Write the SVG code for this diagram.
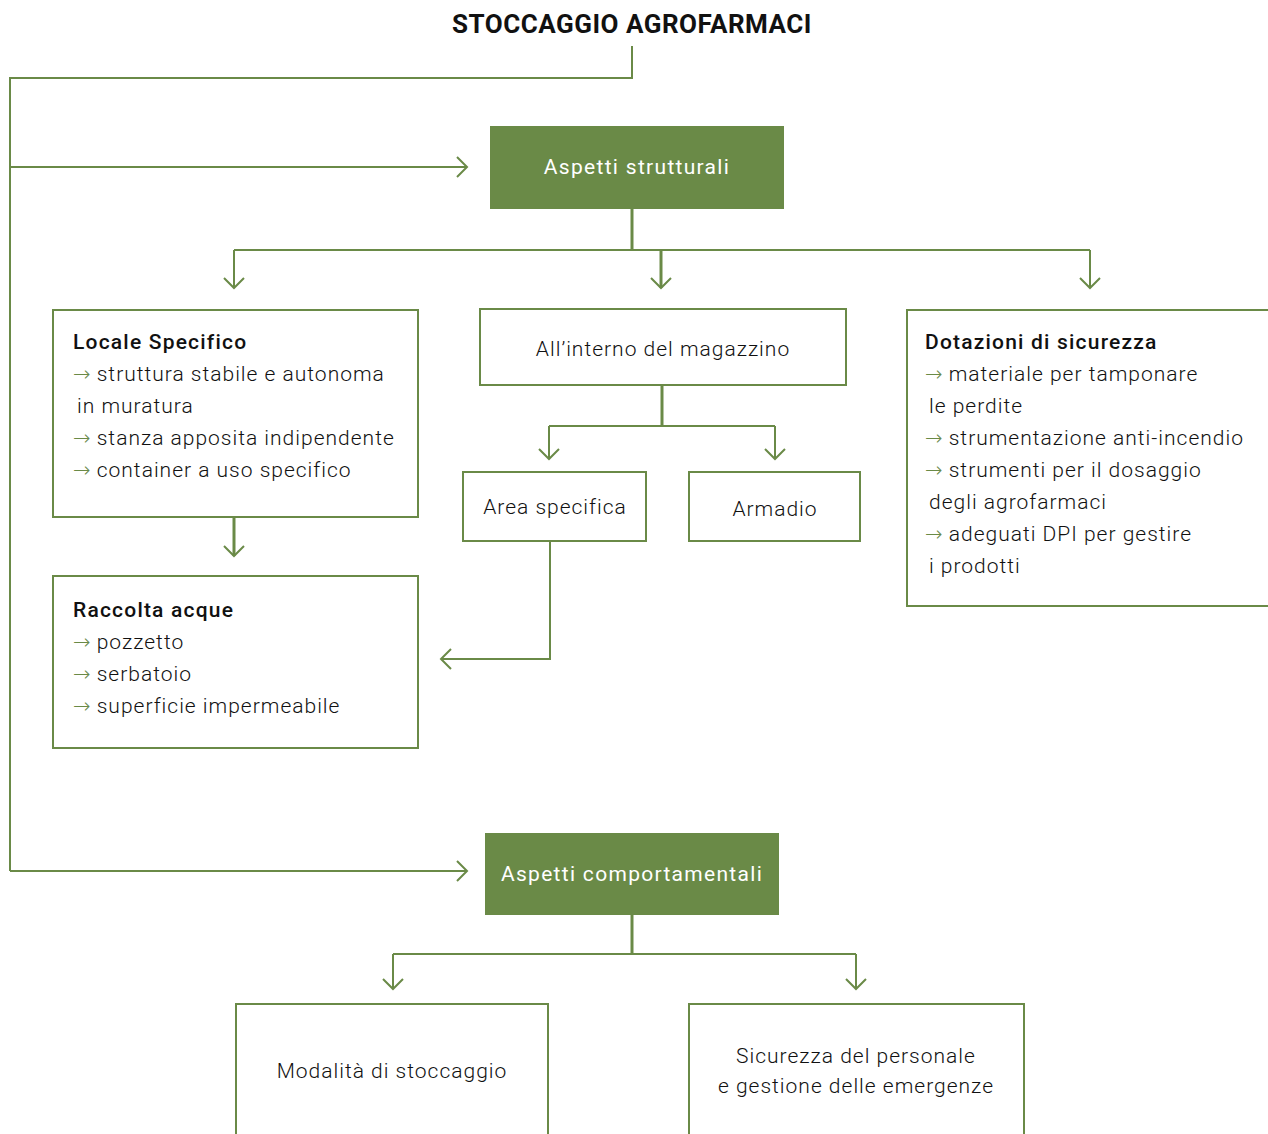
<svg xmlns="http://www.w3.org/2000/svg" width="1268" height="1134" viewBox="0 0 1268 1134">
<style>
.ln{fill:none;stroke:#6a8a47;stroke-width:2}
.tk{fill:none;stroke:#6a8a47;stroke-width:3}
.bx{fill:#fff;stroke:#6a8a47;stroke-width:2}
.gb{fill:#6a8a47}
.t{font-family:Roboto,"Liberation Sans",sans-serif;font-size:21px;font-weight:300;fill:#111;letter-spacing:1px}
.h{font-family:Roboto,"Liberation Sans",sans-serif;font-size:21px;font-weight:500;fill:#111;letter-spacing:1.2px}
.w{font-family:Roboto,"Liberation Sans",sans-serif;font-size:21px;font-weight:400;fill:#fff;letter-spacing:1.3px}
.a{fill:#6a8a47;font-family:"DejaVu Sans",sans-serif;font-weight:200;letter-spacing:0}
.ttl{font-family:Roboto,"Liberation Sans",sans-serif;font-size:26px;font-weight:700;fill:#111;letter-spacing:0.5px}
</style>
<defs>
<marker id="ar" markerUnits="userSpaceOnUse" markerWidth="24" markerHeight="24" viewBox="-12 -12 24 24" refX="0" refY="0" orient="auto">
<path d="M-10,-10 L0,0 L-10,10" fill="none" stroke="#6a8a47" stroke-width="2"/>
</marker>
</defs>
<text class="ttl" x="632" y="33" text-anchor="middle">STOCCAGGIO AGROFARMACI</text>
<g id="connectors">
<path class="ln" d="M632,46 V78 H10 V871"/>
<path class="ln" d="M10,167 H467" marker-end="url(#ar)"/>
<path class="ln" d="M10,871 H467" marker-end="url(#ar)"/>
<path class="tk" d="M632,209 V250"/>
<path class="ln" d="M234,250 H1090"/>
<path class="ln" d="M234,250 V288" marker-end="url(#ar)"/>
<path class="tk" d="M661,250 V288" marker-end="url(#ar)"/>
<path class="ln" d="M1090,250 V288" marker-end="url(#ar)"/>
<path class="tk" d="M234,517 V556" marker-end="url(#ar)"/>
<path class="tk" d="M662,385 V426"/>
<path class="ln" d="M549,426 H775"/>
<path class="ln" d="M549,426 V459" marker-end="url(#ar)"/>
<path class="ln" d="M775,426 V459" marker-end="url(#ar)"/>
<path class="ln" d="M550,541 V659 H441" marker-end="url(#ar)"/>
<path class="tk" d="M632,915 V954"/>
<path class="ln" d="M393,954 H856"/>
<path class="ln" d="M393,954 V989" marker-end="url(#ar)"/>
<path class="ln" d="M856,954 V989" marker-end="url(#ar)"/>
</g>
<g id="n-strutturali">
<rect class="gb" x="490" y="126" width="294" height="83"/>
<text class="w" x="637" y="174" text-anchor="middle">Aspetti strutturali</text>
</g>
<g id="n-locale">
<rect class="bx" x="53" y="310" width="365" height="207"/>
<text class="h" x="73" y="349">Locale Specifico</text>
<text class="t" x="73" y="381"><tspan class="a">→</tspan> struttura stabile e autonoma</text>
<text class="t" x="77" y="413">in muratura</text>
<text class="t" x="73" y="445"><tspan class="a">→</tspan> stanza apposita indipendente</text>
<text class="t" x="73" y="477"><tspan class="a">→</tspan> container a uso specifico</text>
</g>
<g id="n-raccolta">
<rect class="bx" x="53" y="576" width="365" height="172"/>
<text class="h" x="73" y="617">Raccolta acque</text>
<text class="t" x="73" y="649"><tspan class="a">→</tspan> pozzetto</text>
<text class="t" x="73" y="681"><tspan class="a">→</tspan> serbatoio</text>
<text class="t" x="73" y="713"><tspan class="a">→</tspan> superficie impermeabile</text>
</g>
<g id="n-interno">
<rect class="bx" x="480" y="309" width="366" height="76"/>
<text class="t" x="663" y="356" text-anchor="middle">All’interno del magazzino</text>
</g>
<g id="n-area">
<rect class="bx" x="463" y="472" width="183" height="69"/>
<text class="t" x="555" y="514" text-anchor="middle">Area specifica</text>
</g>
<g id="n-armadio">
<rect class="bx" x="689" y="472" width="171" height="69"/>
<text class="t" x="775" y="516" text-anchor="middle">Armadio</text>
</g>
<g id="n-dotazioni">
<rect class="bx" x="907" y="310" width="370" height="296"/>
<text class="h" x="925" y="349">Dotazioni di sicurezza</text>
<text class="t" x="925" y="381"><tspan class="a">→</tspan> materiale per tamponare</text>
<text class="t" x="929" y="413">le perdite</text>
<text class="t" x="925" y="445"><tspan class="a">→</tspan> strumentazione anti-incendio</text>
<text class="t" x="925" y="477"><tspan class="a">→</tspan> strumenti per il dosaggio</text>
<text class="t" x="929" y="509">degli agrofarmaci</text>
<text class="t" x="925" y="541"><tspan class="a">→</tspan> adeguati DPI per gestire</text>
<text class="t" x="929" y="573">i prodotti</text>
</g>
<g id="n-comportamentali">
<rect class="gb" x="485" y="833" width="294" height="82"/>
<text class="w" x="632" y="881" text-anchor="middle">Aspetti comportamentali</text>
</g>
<g id="n-modalita">
<rect class="bx" x="236" y="1004" width="312" height="140"/>
<text class="t" x="392" y="1078" text-anchor="middle">Modalità di stoccaggio</text>
</g>
<g id="n-sicurezza">
<rect class="bx" x="689" y="1004" width="335" height="140"/>
<text class="t" x="856" y="1063" text-anchor="middle">Sicurezza del personale</text>
<text class="t" x="856" y="1093" text-anchor="middle">e gestione delle emergenze</text>
</g>
</svg>
